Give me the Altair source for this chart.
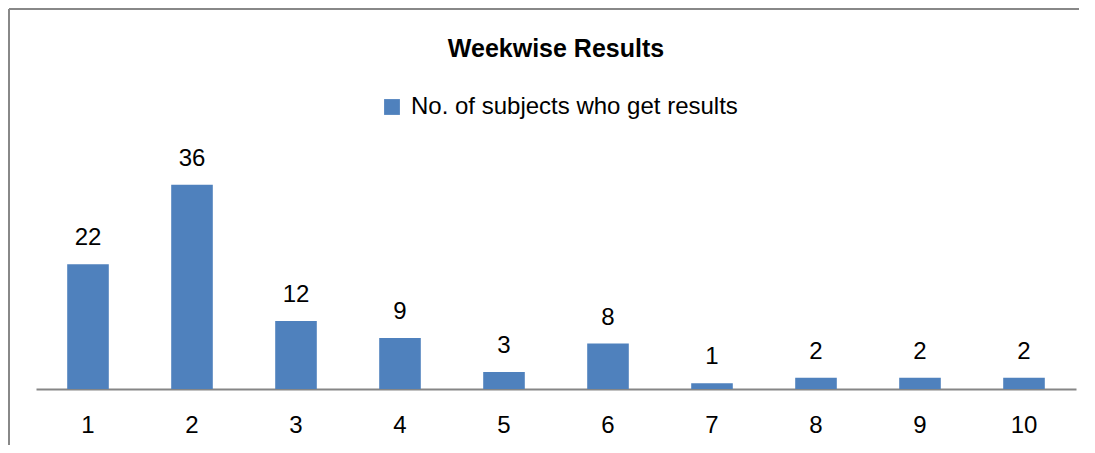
import altair as alt
import pandas as pd

weeks = ["1", "2", "3", "4", "5", "6", "7", "8", "9", "10"]
counts = [22, 36, 12, 9, 3, 8, 1, 2, 2, 2]
series_name = "No. of subjects who get results"

df = pd.DataFrame({"week": weeks, "count": counts, "series": [series_name] * len(weeks)})

FONT = "Liberation Sans"
BAR = "#4F81BD"

x_enc = alt.X("week:N", sort=weeks, title=None,
              scale=alt.Scale(paddingInner=0.6, paddingOuter=0.3),
              axis=alt.Axis(labelAngle=0, ticks=False, labelPadding=24,
                            labelFontSize=24, labelFont=FONT, labelColor="#000000",
                            domainColor="#868686", domainWidth=2, grid=False))
y_enc = alt.Y("count:Q", title=None, scale=alt.Scale(domain=[0, 40]), axis=None)

base = alt.Chart(df)

bars = base.mark_bar(color=BAR).encode(
    x=x_enc, y=y_enc,
    color=alt.Color("series:N", scale=alt.Scale(range=[BAR]),
                    legend=alt.Legend(title=None, orient="none", legendX=344, legendY=-67,
                                      symbolType="square", symbolSize=250, symbolStrokeWidth=0,
                                      labelFontSize=24, labelFont=FONT, labelColor="#000000",
                                      labelOffset=7, padding=0, labelLimit=800)),
)

labels = base.mark_text(fontSize=24, font=FONT, color="#000000", dy=-19,
                        baseline="alphabetic").encode(
    x=alt.X("week:N", sort=weeks), y="count:Q", text="count:Q")

frame = alt.Chart(pd.DataFrame({"a": [0]}))
top_rule = frame.mark_rule(color="#888888", strokeWidth=2).encode(
    x=alt.value(-27), x2=alt.value(1043), y=alt.value(-153))
left_rule = frame.mark_rule(color="#888888", strokeWidth=2).encode(
    x=alt.value(-27), y=alt.value(-153), y2=alt.value(283))

chart = alt.layer(top_rule, left_rule, bars, labels).properties(
    width=1040, height=227,
    title=alt.Title("Weekwise Results", fontSize=25, font=FONT, fontWeight="bold",
                    color="#000000", anchor="middle", offset=0, dy=54),
    autosize=alt.AutoSizeParams(type="none"),
    padding={"left": 28, "top": 154, "right": 11, "bottom": 56},
).configure_view(stroke=None)

chart.save("out.html", embed_options={"renderer": "svg", "actions": False})
